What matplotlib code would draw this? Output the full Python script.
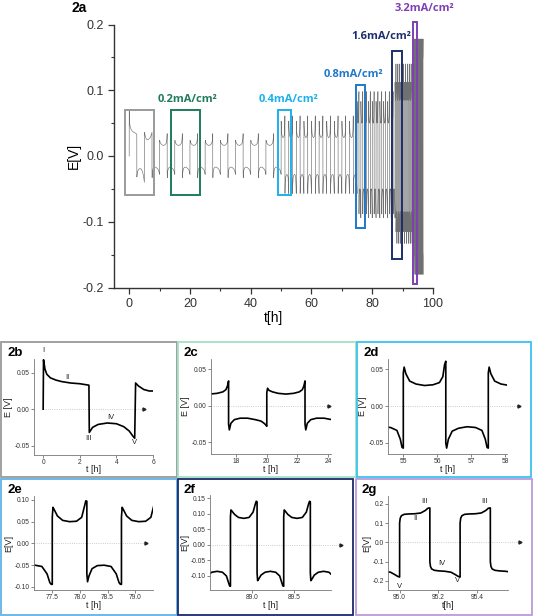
import matplotlib
matplotlib.use('Agg')
import matplotlib.pyplot as plt
from matplotlib.patches import Rectangle
from matplotlib.ticker import MultipleLocator, FormatStrFormatter

plt.rcParams['font.family'] = ['Liberation Sans', 'DejaVu Sans']

W, H = 534, 616

# ---- formation segment (grey box / panel 2b) ----
first_t = [0.0, 0.02, 0.1, 0.2, 0.4, 0.7, 1.0, 1.5, 2.0, 2.5,
           2.52, 2.7, 3.0, 3.5, 4.0, 4.4, 4.7, 4.9, 5.0,
           5.05, 5.2, 5.5, 5.8, 6.2, 6.8, 7.2, 7.5]
first_E = [0.0, 0.068, 0.055, 0.048, 0.043, 0.040, 0.038, 0.036, 0.035, 0.033,
           -0.032, -0.025, -0.021, -0.019, -0.020, -0.024, -0.030, -0.037, -0.040,
           0.036, 0.032, 0.027, 0.025, 0.025, 0.027, 0.031, 0.036]

# ---- cycling stages ----
stage_names = ['0.2mA/cm²', '0.4mA/cm²', '0.8mA/cm²', '1.6mA/cm²', '3.2mA/cm²']
stage_colors = ['#1e7b5c', '#1cb1ea', '#1f78c8', '#1b2f6b', '#7d3fb5']
stage_start = [7.5, 50.0, 75.0, 87.5, 93.75]
half_len = [2.5, 1.25, 0.625, 0.3125, 0.15625]
n_half = [17, 20, 20, 20, 20]
first_sign = [-1, 1, 1, 1, 1]

# one charge / one discharge half cycle per stage (fraction of half cycle, E in V)
frac = [0, 0.02, 0.06, 0.15, 0.3, 0.5, 0.7, 0.85, 0.93, 0.97, 1.0]
pos_shape = [
    [0.018, 0.024, 0.021, 0.019, 0.017, 0.016, 0.017, 0.019, 0.022, 0.027, 0.034],
    [0.045, 0.053, 0.044, 0.034, 0.030, 0.028, 0.029, 0.032, 0.040, 0.056, 0.061],
    [0.060, 0.083, 0.077, 0.063, 0.053, 0.050, 0.051, 0.060, 0.085, 0.098, 0.097],
    [0.090, 0.112, 0.108, 0.098, 0.088, 0.085, 0.088, 0.105, 0.130, 0.140, 0.138],
    [0.100, 0.125, 0.138, 0.145, 0.147, 0.148, 0.152, 0.165, 0.176, 0.178, 0.178],
]
neg_shape = [
    [-0.025, -0.033, -0.024, -0.019, -0.017, -0.017, -0.019, -0.021, -0.024, -0.026, -0.028],
    [-0.050, -0.057, -0.045, -0.034, -0.030, -0.028, -0.029, -0.033, -0.045, -0.056, -0.057],
    [-0.070, -0.088, -0.075, -0.058, -0.051, -0.050, -0.053, -0.070, -0.090, -0.094, -0.094],
    [-0.090, -0.115, -0.110, -0.097, -0.088, -0.085, -0.088, -0.100, -0.122, -0.132, -0.133],
    [-0.100, -0.125, -0.138, -0.145, -0.148, -0.150, -0.155, -0.168, -0.176, -0.178, -0.180],
]

# boxes on the overview (t0, t1, E0, E1) and their colours
box_t = [(-1.25, 8.1), (13.8, 23.2), (49.0, 53.2), (74.7, 77.6), (86.4, 89.8), (93.5, 94.8)]
box_E = [(-0.06, 0.07), (-0.06, 0.07), (-0.06, 0.07), (-0.11, 0.108), (-0.157, 0.159), (-0.194, 0.204)]
box_colors = ['#9a9a9a', '#1e7b5c', '#1cb1ea', '#1f78c8', '#1b2f6b', '#7d3fb5']
label_pos = [(19.1, 0.0855), (52.3, 0.0855), (73.7, 0.124), (83.1, 0.182), (97.1, 0.225)]

# zoom panels
panel_names = ['2b', '2c', '2d', '2e', '2f', '2g']
panel_border_colors = ['#9a9a9a', '#a3e2c4', '#3cc3ee', '#62b2e6', '#1b2a6b', '#b99bda']
panel_xlim = [(-0.5, 6.0), (16.35, 24.2), (54.55, 58.05), (77.17, 79.32), (88.51, 89.93), (94.94, 95.56)]
panel_ylim = [(-0.063, 0.069), (-0.066, 0.064), (-0.065, 0.064), (-0.107, 0.109), (-0.145, 0.16), (-0.247, 0.24)]
panel_xticks = [[0, 2, 4, 6], [18, 20, 22, 24], [55, 56, 57, 58], [77.5, 78.0, 78.5, 79.0],
                [89.0, 89.5], [95.0, 95.2, 95.4]]
panel_yticks = [[-0.05, 0.0, 0.05], [-0.05, 0.0, 0.05], [-0.05, 0.0, 0.05],
                [-0.10, -0.05, 0.0, 0.05, 0.10], [-0.10, -0.05, 0.0, 0.05, 0.10, 0.15],
                [-0.2, -0.1, 0.0, 0.1, 0.2]]
panel_xfmt = ['%d', '%d', '%d', '%.1f', '%.1f', '%.1f']
panel_yfmt = ['%.2f', '%.2f', '%.2f', '%.2f', '%.2f', '%.1f']
panel_ylabel = ['E [V]', 'E [V]', 'E [V]', 'E[V]', 'E[V]', 'E[V]']
panel_xlabel = ['t [h]', 't [h]', 't [h]', 't [h]', 't [h]', 't[h]']
panel_arrow_x = [5.5, 24.1, 58.4, 79.2, 90.05, 95.62]
roman_2b = [('I', 0.0, 0.080), ('II', 1.3, 0.043), ('III', 2.5, -0.041), ('IV', 3.7, -0.012), ('V', 5.0, -0.046)]
roman_2g = [('III', 95.13, 0.214), ('III', 95.44, 0.214), ('II', 95.08, 0.124),
            ('IV', 95.22, -0.11), ('V', 95.0, -0.228), ('V', 95.3, -0.2)]

# pixel boxes (left, top, right, bottom)
border_px = [(1, 342, 177, 477), (178, 342, 356, 477), (357, 342, 531, 477),
             (1, 479, 177, 615), (178, 479, 353, 615), (356, 479, 532, 615)]
axes_px = [(34, 359, 153, 455), (211, 359, 331, 454), (388, 359, 507, 454),
           (34, 496, 153, 590), (210, 495, 331, 590), (388, 496, 508, 590)]
xlabel_top_px = [465, 465, 465, 601, 601, 601]


def fig_rect(l, t, r, b):
    return [l / W, 1 - b / H, (r - l) / W, (b - t) / H]


# build the full trace
t_all = list(first_t)
E_all = list(first_E)
for k in range(len(stage_start)):
    for i in range(n_half[k]):
        sign = first_sign[k] * (-1) ** i
        shape = pos_shape[k] if sign > 0 else neg_shape[k]
        t0 = stage_start[k] + i * half_len[k]
        for f, e in zip(frac, shape):
            t_all.append(t0 + f * half_len[k])
            E_all.append(e)

fig = plt.figure(figsize=(W / 100, H / 100), dpi=100)

# ---- 2a overview ----
ax = fig.add_axes(fig_rect(114, 24.5, 433, 287.5))
ax.plot(t_all, E_all, color='#707070', lw=0.45)
ax.set_xlim(-5, 100)
ax.set_ylim(-0.2, 0.2)
for sp in ['top', 'right']:
    ax.spines[sp].set_visible(False)
for sp in ['left', 'bottom']:
    ax.spines[sp].set_color('#333333')
    ax.spines[sp].set_linewidth(1.0)
ax.xaxis.set_major_locator(MultipleLocator(20))
ax.xaxis.set_minor_locator(MultipleLocator(10))
ax.yaxis.set_major_locator(MultipleLocator(0.1))
ax.yaxis.set_minor_locator(MultipleLocator(0.05))
ax.yaxis.set_major_formatter(FormatStrFormatter('%.1f'))
ax.tick_params(which='major', length=4, width=0.9, labelsize=9, colors='#333333')
ax.tick_params(which='minor', length=2.5, width=0.8, colors='#333333')
ax.set_xlabel('t[h]', fontsize=10, labelpad=1)
ax.set_ylabel('E[V]', fontsize=10, labelpad=1)

for (t0, t1), (e0, e1), c in zip(box_t, box_E, box_colors):
    ax.add_patch(Rectangle((t0, e0), t1 - t0, e1 - e0, fill=False, ec=c, lw=1.4, clip_on=False, zorder=3))
for name, c, (tx, ey) in zip(stage_names, stage_colors, label_pos):
    ax.text(tx, ey, name, color=c, fontsize=8, fontweight='bold', family=['Open Sans', 'DejaVu Sans'],
            ha='center', va='center', clip_on=False)
fig.text(72 / W, 1 - 1 / H, '2a', fontsize=10, fontweight='bold', va='top', ha='left')

# ---- zoom panels ----
for k in range(6):
    r = fig_rect(*border_px[k])
    fig.patches.append(Rectangle((r[0], r[1]), r[2], r[3], transform=fig.transFigure, fill=False,
                                 ec=panel_border_colors[k], lw=1.3))
    a = fig.add_axes(fig_rect(*axes_px[k]))
    x0 = 0.0 if k == 0 else panel_xlim[k][0]
    a.plot([x0, panel_arrow_x[k]], [0, 0], ls=':', color='#bdbdbd', lw=0.6, clip_on=False)
    a.plot([panel_arrow_x[k]], [0], marker='>', ms=2.2, color='#222222', clip_on=False)
    a.plot(t_all, E_all, color='black', lw=1.2)
    a.set_xlim(*panel_xlim[k])
    a.set_ylim(*panel_ylim[k])
    a.set_xticks(panel_xticks[k])
    a.set_yticks(panel_yticks[k])
    a.xaxis.set_major_formatter(FormatStrFormatter(panel_xfmt[k]))
    a.yaxis.set_major_formatter(FormatStrFormatter(panel_yfmt[k]))
    for sp in ['top', 'right']:
        a.spines[sp].set_visible(False)
    for sp in ['left', 'bottom']:
        a.spines[sp].set_color('#777777')
        a.spines[sp].set_linewidth(0.6)
    a.tick_params(length=2, width=0.5, labelsize=4.8, pad=1.0, colors='#555555', labelcolor='#333333')
    a.set_xlabel(panel_xlabel[k], fontsize=6.5, color='#222222')
    a.set_ylabel(panel_ylabel[k], fontsize=6.5, labelpad=1, color='#222222')
    ap = axes_px[k]
    a.xaxis.set_label_coords(0.5, (ap[3] - xlabel_top_px[k]) / (ap[3] - ap[1]))
    bl = border_px[k]
    fig.text((bl[0] + 6) / W, 1 - (bl[1] + 5) / H, panel_names[k], fontsize=9.5,
             fontweight='bold', va='top', ha='left')
    if k == 0:
        for s, tx, ey in roman_2b:
            a.text(tx, ey, s, fontsize=5.5, ha='center', va='center', clip_on=False, color='#222222')
    if k == 5:
        for s, tx, ey in roman_2g:
            a.text(tx, ey, s, fontsize=5.5, ha='center', va='center', clip_on=False, color='#222222')

fig.savefig('out.png', dpi=100)
